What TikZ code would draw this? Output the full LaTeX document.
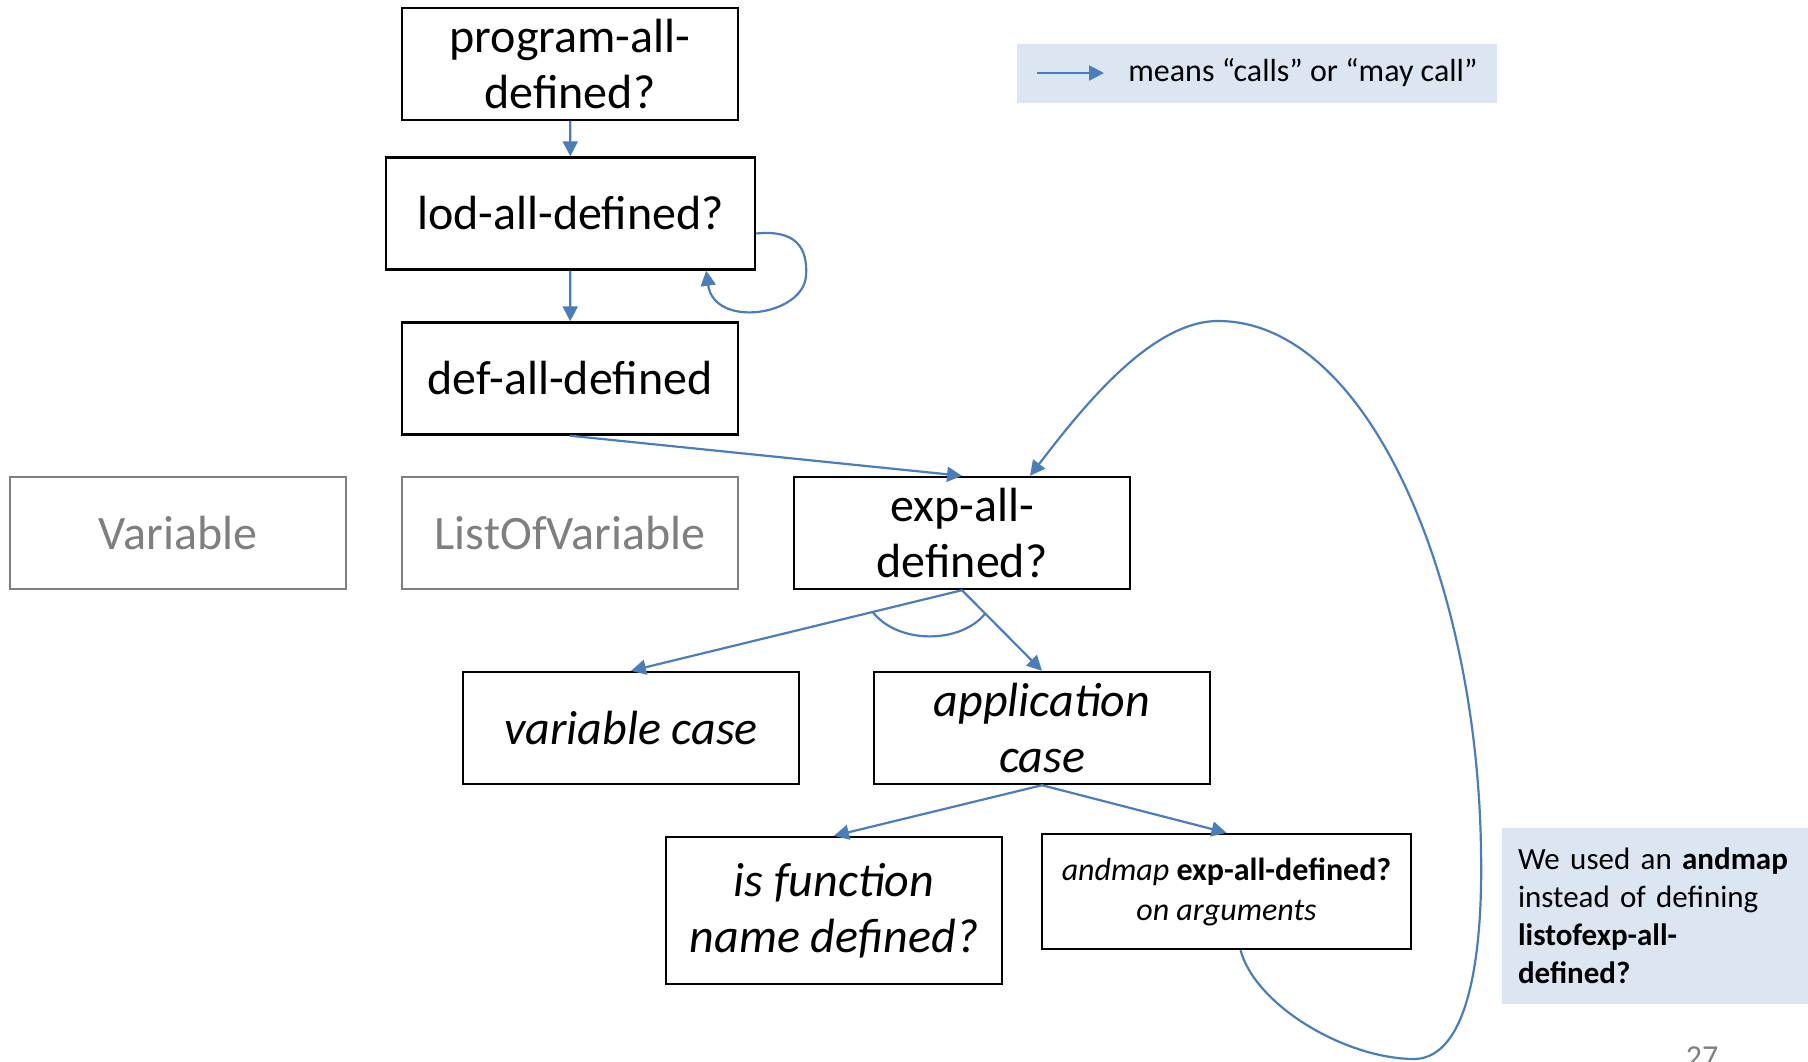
\documentclass[tikz,border=0pt]{standalone}
\usepackage{fontspec}
\setmainfont{Carlito}
\usetikzlibrary{arrows.meta,calc}

\definecolor{callblue}{HTML}{4A7EBB}
\definecolor{notefill}{HTML}{DCE6F2}
\definecolor{dimgray}{HTML}{7F7F7F}

\tikzset{
  fn/.style={draw=black,line width=1.2pt,inner sep=0pt,minimum width=168pt,
    minimum height=56pt,align=center,font=\fontsize{24}{28}\selectfont},
  greyfn/.style={fn,draw=dimgray,text=dimgray,line width=1pt},
  casebox/.style={fn,font=\fontsize{24}{28}\selectfont\itshape},
  call/.style={draw=callblue,line width=1.1pt,-{Triangle[length=7.5pt,width=7.5pt]}},
  notebox/.style={fill=notefill,inner sep=0pt}
}

\begin{document}
\begin{tikzpicture}[x=0.5pt,y=-0.5pt]
\useasboundingbox (0,0) rectangle (1808,1061);

% the functions
\node[fn] (prog) at (570,64) {program-all-\\defined?};
\node[fn,minimum width=184.5pt] (lod) at (570.5,213.5) {lod-all-defined?};
\node[fn] (def) at (570,378.5) {def-all-defined};
\node[greyfn] (var) at (178,533) {Variable};
\node[greyfn] (lov) at (570,533) {ListOfVariable};
\node[fn] (exp) at (962,533) {exp-all-\\defined?};
\node[casebox] (vcase) at (631,728) {variable case};
\node[casebox] (acase) at (1042,728) {application\\case};
\node[casebox,minimum height=73.5pt] (isfn) at (834,910.5) {is function\\name defined?};
\node[fn,minimum width=184.5pt,minimum height=57.5pt,font=\fontsize{16}{20}\selectfont] (andmap) at (1226.5,891.5)
  {\textit{andmap} \textbf{exp-all-defined?}\\\textit{on arguments}};

% key
\node[notebox,minimum width=240pt,minimum height=29.5pt] (key) at (1257,73.5) {};
\coordinate (keyA) at (1037,73);
\coordinate (keyB) at (1104,73);
\node[anchor=west,inner sep=0pt,font=\fontsize{16}{19}\selectfont] (keytext) at (1128,73) {means “calls” or “may call”};

% note
\node[notebox,minimum width=153pt,minimum height=88pt,text width=137pt,align=left,
  font=\fontsize{15.5}{19}\selectfont] (note) at (1655,916)
  {We used an \textbf{andmap}\\instead of defining\\\textbf{listofexp-all-}\\\textbf{defined?}};
\node[anchor=north,inner sep=0pt,text=dimgray,font=\fontsize{16}{19}\selectfont] (pagenum) at (1702,1046) {27};

% calls
\draw[call] (keyA) -- (keyB);
\draw[call] (prog) -- (lod);
\draw[call] (lod) -- (def);
\draw[call] ([yshift=-10pt]lod.east) .. controls +(40,-4) and +(2,-28) .. (806,276)
  .. controls +(-3,40) and +(8,58) .. ([xshift=-25pt]lod.south east);
\draw[call] (def.south) -- (exp.north);
\draw[call] (exp.south) -- (vcase.north);
\draw[call] (exp.south) -- (acase.north);
\draw[callblue,line width=1.1pt] ($(exp.south)!0.27!(vcase.north)$) .. controls +(26,33) and +(-24,30) .. ($(exp.south)!0.29!(acase.north)$);
\draw[call] (acase.south) -- (isfn.north);
\draw[call] (acase.south) -- (andmap.north);
\draw[call] ([xshift=7pt]andmap.south) .. controls +(15,55) and +(-70,0) .. (1415,1059)
  .. controls +(55,-2) and +(2,100) .. (1481,850)
  .. controls +(-4,-270) and +(150,0) .. (1218,321)
  .. controls +(-68,0) and +(50,-65) .. ([xshift=34pt]exp.north);
\end{tikzpicture}
\end{document}
